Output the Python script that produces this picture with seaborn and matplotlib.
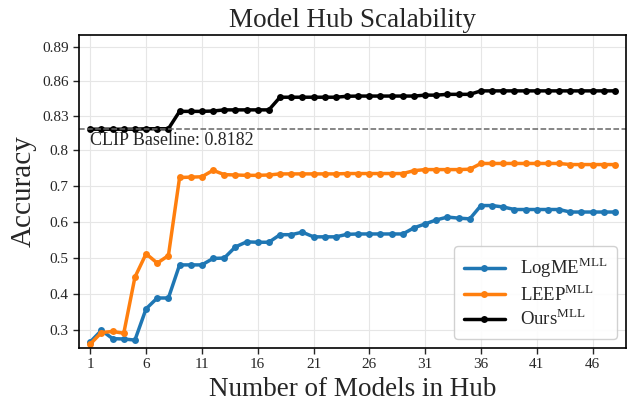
import numpy as np
import pandas as pd
import matplotlib
matplotlib.use("Agg")
import matplotlib.pyplot as plt
import seaborn as sns

# number of models in the hub
hub_size = list(range(1, 49))

logme = [0.267, 0.299, 0.276, 0.275, 0.272, 0.359, 0.389, 0.389, 0.481, 0.481,
         0.481, 0.499, 0.500, 0.531, 0.545, 0.544, 0.544, 0.565, 0.565, 0.572,
         0.559, 0.559, 0.559, 0.566, 0.567, 0.567, 0.567, 0.567, 0.567, 0.584,
         0.595, 0.606, 0.614, 0.611, 0.609, 0.646, 0.646, 0.642, 0.635, 0.635,
         0.635, 0.635, 0.635, 0.628, 0.628, 0.628, 0.628, 0.628]

leep = [0.261, 0.293, 0.296, 0.291, 0.447, 0.512, 0.486, 0.507, 0.724, 0.725,
        0.726, 0.744, 0.732, 0.731, 0.730, 0.730, 0.731, 0.734, 0.734, 0.734,
        0.734, 0.734, 0.734, 0.735, 0.735, 0.735, 0.735, 0.735, 0.735, 0.743,
        0.746, 0.746, 0.746, 0.746, 0.747, 0.763, 0.763, 0.763, 0.763, 0.763,
        0.763, 0.763, 0.763, 0.760, 0.760, 0.760, 0.760, 0.760]

ours = [0.8182, 0.8182, 0.8182, 0.8182, 0.8182, 0.8186, 0.8186, 0.8186, 0.8337, 0.8337,
        0.8337, 0.834, 0.835, 0.835, 0.835, 0.835, 0.835, 0.846, 0.846, 0.846,
        0.846, 0.846, 0.846, 0.8468, 0.847, 0.847, 0.847, 0.847, 0.847, 0.847,
        0.8478, 0.8478, 0.8485, 0.8485, 0.8485, 0.8515, 0.8515, 0.8515, 0.8515, 0.8515,
        0.8515, 0.8515, 0.8515, 0.8515, 0.8515, 0.8515, 0.8515, 0.8515]

clip_baseline = 0.8182
y_ticks = [0.3, 0.4, 0.5, 0.6, 0.7, 0.8, 0.83, 0.86, 0.89]
y_ticklabels = ["0.3", "0.4", "0.5", "0.6", "0.7", "0.8", "0.83", "0.86", "0.89"]
x_ticks = list(range(1, 47, 5))

sns.set_style("ticks", {"axes.grid": True, "grid.color": "#e6e6e6",
                        "axes.edgecolor": "black"})
plt.rcParams["font.family"] = ["Liberation Serif", "DejaVu Serif"]
plt.rcParams["mathtext.fontset"] = "custom"
plt.rcParams["mathtext.rm"] = "Liberation Serif"

# stretch everything above 0.8 so the top curve is readable
K = 3.2
def fwd(y):
    y = np.asarray(y, dtype=float)
    return np.where(y <= 0.8, y, 0.8 + (y - 0.8) * K)
def inv(y):
    y = np.asarray(y, dtype=float)
    return np.where(y <= 0.8, y, 0.8 + (y - 0.8) / K)

fig = plt.figure(figsize=(6.33, 4.03), dpi=100)
ax = fig.add_axes([0.125, 0.1365, 0.864, 0.7765])

sns.lineplot(x=hub_size, y=logme, marker="o", color="#1f77b4", lw=2.5,
             markersize=5, markeredgewidth=0, label=r"LogME$^{\mathrm{MLL}}$", ax=ax)
sns.lineplot(x=hub_size, y=leep, marker="o", color="#ff7f0e", lw=2.5,
             markersize=5, markeredgewidth=0, label=r"LEEP$^{\mathrm{MLL}}$", ax=ax)
sns.lineplot(x=hub_size, y=ours, marker="o", color="black", lw=2.5,
             markersize=5, markeredgewidth=0, label=r"Ours$^{\mathrm{MLL}}$", ax=ax)

ax.axhline(clip_baseline, color="#666666", ls="--", lw=1.1)
ax.text(1, 0.8158, "CLIP Baseline: %.4f" % clip_baseline, fontsize=13,
        va="top", ha="left")

ax.set_yscale("function", functions=(fwd, inv))
ax.set_ylim(0.25, 0.9)
ax.set_xlim(0, 49)
ax.set_yticks(y_ticks)
ax.set_yticklabels(y_ticklabels)
ax.set_xticks(x_ticks)
ax.minorticks_off()
ax.tick_params(labelsize=11, width=1, length=4)
for s in ax.spines.values():
    s.set_linewidth(1.2)

ax.set_title("Model Hub Scalability", fontsize=19.5)
ax.set_xlabel("Number of Models in Hub", fontsize=19.5)
ax.set_ylabel("Accuracy", fontsize=21)
ax.legend(loc="lower right", fontsize=13.5, handlelength=2.2, framealpha=0.9,
          borderpad=0.5, labelspacing=0.2)

fig.savefig("out.png", dpi=100)
